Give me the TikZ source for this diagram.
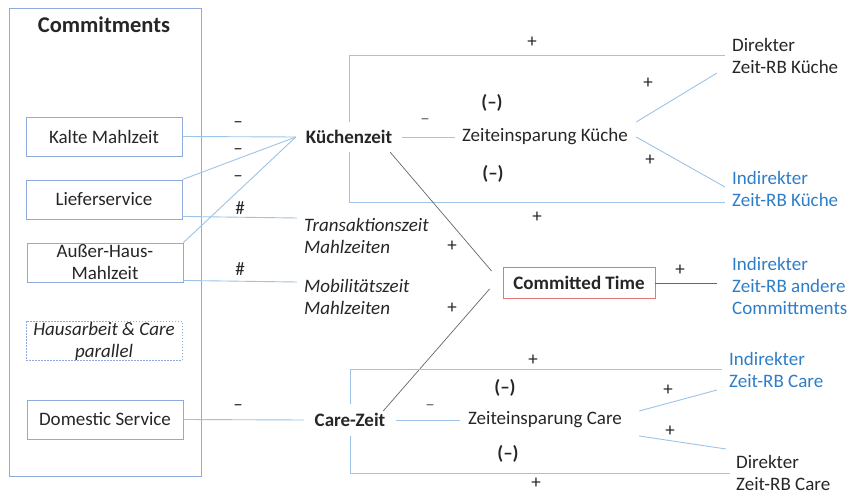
\documentclass[tikz,border=0pt]{standalone}
\usepackage{fontspec}
\setmainfont{Carlito}
\usetikzlibrary{calc}
\definecolor{lb}{RGB}{157,195,230}
\definecolor{bx}{RGB}{143,170,220}
\definecolor{tb}{RGB}{46,125,200}
\definecolor{tx}{RGB}{38,38,38}
\definecolor{rd}{RGB}{225,120,120}
\newcommand\fs{\fontsize{19}{22}\selectfont}
\begin{document}
\begin{tikzpicture}[x=1pt,y=-1pt,font=\fs,text=tx,
  box/.style={draw=bx,line width=0.9pt,minimum width=156pt,minimum height=39pt,inner sep=0,align=center},
  lk/.style={draw=lb,line width=0.9pt},
  dk/.style={draw=black!60,line width=0.7pt},
  lbl/.style={inner sep=0,anchor=west,align=left},
  sg/.style={inner sep=0}]
\useasboundingbox (0,0) rectangle (847,494);
% left panel
\node[draw=bx,line width=0.9pt,minimum width=192pt,minimum height=468pt,anchor=north west,inner sep=0] (outer) at (9,8) {};
\node[font=\fontsize{22.5}{26}\selectfont\bfseries] (title) at (104,25) {Commitments};
\node[box] (kalte) at (104,136.5) {Kalte Mahlzeit};
\node[box] (liefer) at (104,199.5) {Lieferservice};
\node[box] (ausser) at (105,262.5) {Außer-Haus-\\Mahlzeit};
\node[box,dash pattern=on 1.5pt off 1.5pt,font=\fs\itshape] (haus) at (104,341) {Hausarbeit \& Care\\parallel};
\node[box] (dom) at (105,419.5) {Domestic Service};
% middle and right
\node[font=\fs\bfseries,minimum width=106pt,minimum height=30pt,inner sep=0] (kz) at (349,137) {Küchenzeit};
\node[minimum width=180pt,minimum height=30pt,inner sep=0] (zk) at (545,137) {Zeiteinsparung Küche};
\node[lbl] (dkk) at (732,55.5) {Direkter\\Zeit-RB Küche};
\node[lbl,text=tb] (ikk) at (732,188.5) {Indirekter\\Zeit-RB Küche};
\node[lbl,font=\fs\itshape] (tz) at (304,236) {Transaktionszeit\\Mahlzeiten};
\node[lbl,font=\fs\itshape] (mz) at (304,296.5) {Mobilitätszeit\\Mahlzeiten};
\node[draw=rd,line width=0.9pt,minimum width=152pt,minimum height=31pt,inner sep=0,font=\fs\bfseries] (ct) at (579,283) {Committed Time};
\node[lbl,text=tb] (ica) at (732,285.5) {Indirekter\\Zeit-RB andere\\Committments};
\node[font=\fs\bfseries,minimum width=92pt,minimum height=32pt,inner sep=0] (cz) at (350,420) {Care-Zeit};
\node[minimum width=170pt,minimum height=30pt,inner sep=0] (zc) at (545,420) {Zeiteinsparung Care};
\node[lbl,text=tb] (icr) at (729,369.5) {Indirekter\\Zeit-RB Care};
\node[lbl] (dcr) at (736,473) {Direkter\\Zeit-RB Care};
% connectors
\draw[lk] (kalte.east) -- (kz.west);
\draw[lk] (liefer.north east) -- (kz.west);
\draw[lk] (ausser.north east) -- (kz.west);
\draw[lk] ($(liefer.south east)+(0,-3)$) -- ($(tz.west)+(-7,-18)$);
\draw[lk] ($(ausser.south east)+(0,-2)$) -- ($(mz.west)+(-7,-14.5)$);
\draw[lk] (dom.east) -- (cz.west);
\draw[lk] (kz.east) -- (zk.west);
\draw[lk] (kz.north) |- ($(dkk.west)+(-7,0)$);
\draw[lk] (kz.south) |- ($(ikk.west)+(-7,13.5)$);
\draw[lk] ($(zk.east)+(1,-15)$) -- ($(dkk.west)+(-15,17.5)$);
\draw[lk] ($(zk.east)+(1,0)$) -- ($(ikk.west)+(-7,-1.5)$);
\draw[dk] ($(kz.south east)+(-12,0)$) -- ($(ct.west)+(-11,-12)$);
\draw[dk] ($(cz.east)+(-13,-9)$) -- ($(ct.west)+(-13,6)$);
\draw[dk] (ct.east) -- ($(ica.west)+(-15,-2.5)$);
\draw[lk] (cz.east) -- (zc.west);
\draw[lk] (cz.north) |- ($(icr.west)+(-7,0)$);
\draw[lk] (cz.south) |- ($(dcr.west)+(-6,0)$);
\draw[lk] ($(zc.east)+(9,-9)$) -- ($(icr.west)+(-12,20.5)$);
\draw[lk] ($(zc.east)+(9,16)$) -- ($(dcr.west)+(-10,-24)$);
% signs
\node[sg] (s1) at (238,125) {–};
\node[sg] (s2) at (238,152) {–};
\node[sg] (s3) at (238,179) {–};
\node[sg] (s4) at (240,208) {\#};
\node[sg] (s5) at (240,269) {\#};
\node[sg] (s6) at (238,408) {–};
\node[sg,text=black!60] (s7) at (425,122) {–};
\node[sg,text=black!60] (s8) at (430,408) {–};
\node[sg] (p1) at (532,42) {+};
\node[sg] (p2) at (537,217) {+};
\node[sg] (p3) at (648,83) {+};
\node[sg] (p4) at (650,160) {+};
\node[sg] (p5) at (452,246) {+};
\node[sg] (p6) at (452,308) {+};
\node[sg] (p7) at (680,270) {+};
\node[sg] (p8) at (533,360) {+};
\node[sg] (p9) at (536,483) {+};
\node[sg] (p10) at (668,390) {+};
\node[sg] (p11) at (670,431) {+};
\node[sg,font=\fs\bfseries] (m1) at (492,103) {(–)};
\node[sg,font=\fs\bfseries] (m2) at (493,174) {(–)};
\node[sg,font=\fs\bfseries] (m3) at (505,388) {(–)};
\node[sg,font=\fs\bfseries] (m4) at (508,454) {(–)};
\end{tikzpicture}
\end{document}
